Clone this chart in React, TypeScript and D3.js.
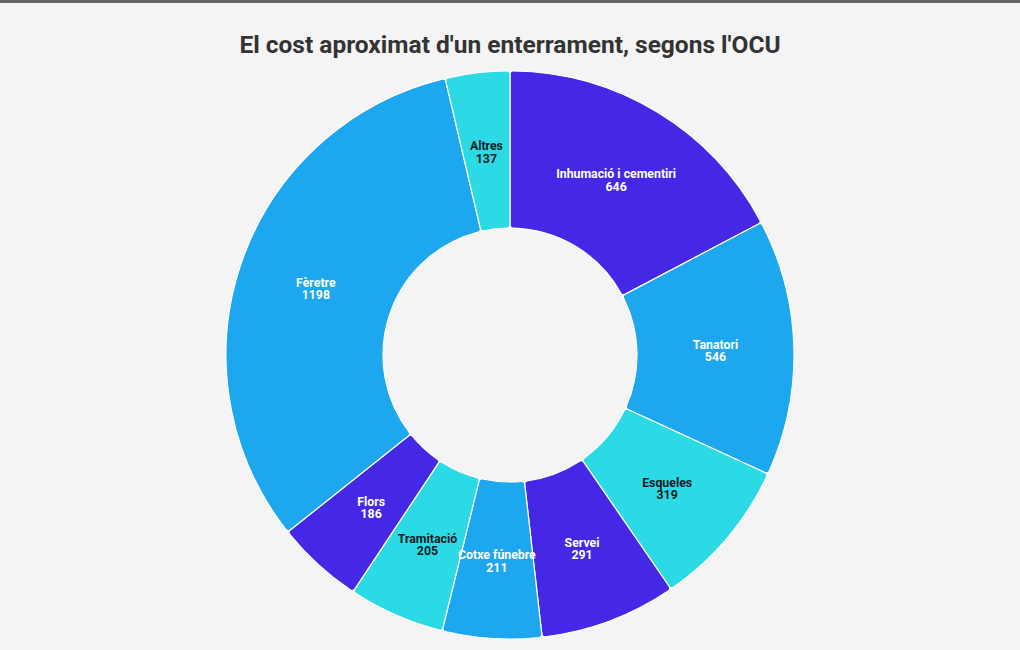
import React, { useEffect, useRef } from "react";
import * as d3 from "d3";

const categories = [
  "Inhumació i cementiri",
  "Tanatori",
  "Esqueles",
  "Servei",
  "Cotxe fúnebre",
  "Tramitació",
  "Flors",
  "Fèretre",
  "Altres",
];
const values = [646, 546, 319, 291, 211, 205, 186, 1198, 137];
const palette = ["#4428e6", "#1ca7ee", "#2bdae5"];
const labelColors = ["#ffffff", "#ffffff", "#0b1a24"];

interface Slice {
  name: string;
  value: number;
  idx: number;
}

export default function App() {
  const ref = useRef<SVGSVGElement>(null);

  useEffect(() => {
    const width = 1020;
    const height = 650;
    const svg = d3.select(ref.current);
    svg.selectAll("*").remove();

    svg.append("rect").attr("width", width).attr("height", height).attr("fill", "#f4f4f4");
    svg.append("rect").attr("width", width).attr("height", 3).attr("fill", "#666666");

    svg.append("text")
      .attr("x", width / 2)
      .attr("y", 53)
      .attr("text-anchor", "middle")
      .style("font-family", "Roboto, sans-serif")
      .style("font-weight", 700)
      .style("font-size", "24.5px")
      .style("fill", "#333333")
      .text("El cost aproximat d'un enterrament, segons l'OCU");

    const data: Slice[] = categories.map((name, i) => ({ name, value: values[i], idx: i }));

    const cx = 510;
    const cy = 355;
    const outer = 284;
    const inner = 127;

    const pie = d3.pie<Slice>().value(d => d.value).sort(null);
    const arc = d3.arc<d3.PieArcDatum<Slice>>()
      .innerRadius(inner)
      .outerRadius(outer)
      .cornerRadius(3);
    const labelArc = d3.arc<d3.PieArcDatum<Slice>>()
      .innerRadius((inner + outer) / 2)
      .outerRadius((inner + outer) / 2);

    const g = svg.append("g").attr("transform", `translate(${cx},${cy})`);
    const arcs = pie(data);

    g.selectAll("path")
      .data(arcs)
      .enter()
      .append("path")
      .attr("d", arc)
      .attr("fill", d => palette[d.data.idx % 3])
      .attr("stroke", "#ffffff")
      .attr("stroke-width", 1.2);

    const labels = g.selectAll(".lbl")
      .data(arcs)
      .enter()
      .append("text")
      .attr("class", "lbl")
      .attr("transform", d => `translate(${labelArc.centroid(d)})`)
      .attr("text-anchor", "middle")
      .style("font-family", "Roboto, sans-serif")
      .style("font-weight", 700)
      .style("font-size", "12.3px")
      .style("fill", d => labelColors[d.data.idx % 3]);

    labels.append("tspan").attr("x", 0).attr("dy", "-0.05em").text(d => d.data.name);
    labels.append("tspan").attr("x", 0).attr("dy", "1em").text(d => String(d.data.value));
  }, []);

  return (
    <div style={{ position: "fixed", left: 0, top: 0 }}>
      <svg ref={ref} width={1020} height={650} style={{ display: "block" }} />
    </div>
  );
}
